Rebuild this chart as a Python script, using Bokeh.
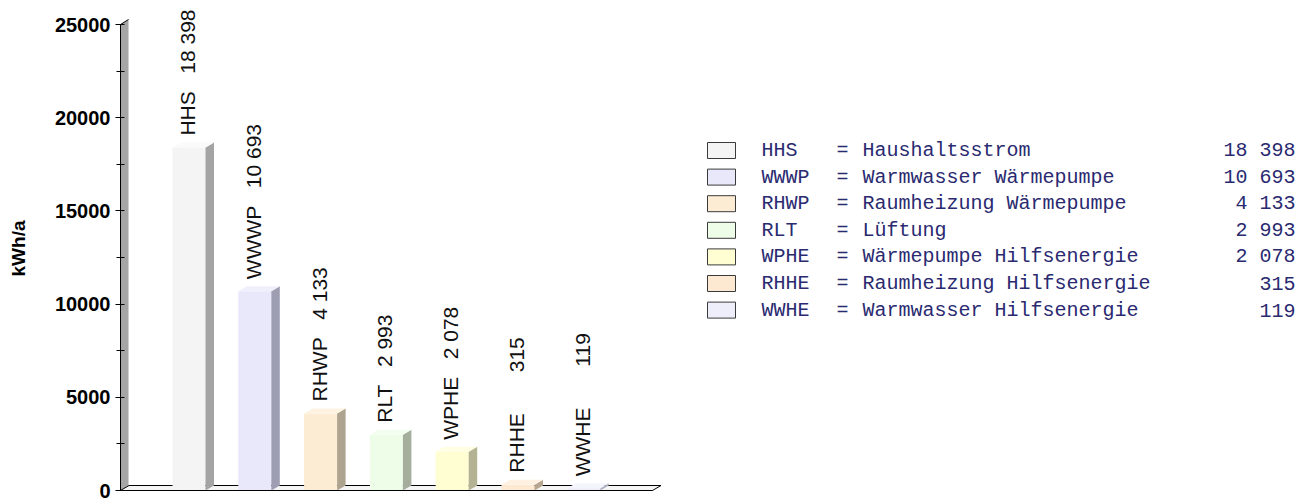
import math
from bokeh.plotting import figure
from bokeh.models import Range1d, SingleIntervalTicker, ColumnDataSource
from bokeh.core.properties import value
from bokeh.embed import file_html
from bokeh.resources import INLINE

# ---------------- data ----------------
codes = ["HHS", "WWWP", "RHWP", "RLT", "WPHE", "RHHE", "WWHE"]
names = ["Haushaltsstrom", "Warmwasser Wärmepumpe", "Raumheizung Wärmepumpe",
         "Lüftung", "Wärmepumpe Hilfsenergie", "Raumheizung Hilfsenergie",
         "Warmwasser Hilfsenergie"]
values = [18398, 10693, 4133, 2993, 2078, 315, 119]
front_colors = ["#f4f4f4", "#e8e8fa", "#fdecd4", "#eefde8", "#fffed2", "#fde9d2", "#eeeefa"]
side_colors = ["#a4a4a4", "#9e9eb2", "#ada38f", "#a5ad9d", "#b3b394", "#b6a68f", "#b0b0c2"]
top_colors = ["#fafafa", "#f0f0fd", "#fef3e2", "#f4fef0", "#fffee2", "#fef1e2", "#f4f4fd"]
y_ticks_interval = 5000
y_max = 25000
y_title = "kWh/a"

# ---------------- layout helpers (canvas pixels -> data) ----------------
FIG_W, FIG_H = 1307, 500
FRAME_LEFT = 120.0
FRAME_RIGHT = float(FIG_W)
FRAME_TOP = 0.0
FRAME_BOTTOM = 496.0
ZERO_Y = 490.0          # canvas y of value 0
TOP_Y = 24.0            # canvas y of value 25000
X_STEP = 65.8           # px per category
FIRST_CENTER = 188.5    # canvas x of first bar center

UPY = y_max / (ZERO_Y - TOP_Y)
UPX = 1.0 / X_STEP

def fx(px):
    return (px - FIRST_CENTER) * UPX

def fy(py):
    return (ZERO_Y - py) * UPY

x_start, x_end = fx(FRAME_LEFT), fx(FRAME_RIGHT)
y_start, y_end = fy(FRAME_BOTTOM), fy(FRAME_TOP)

p = figure(width=FIG_W, height=FIG_H, output_backend="svg", toolbar_location=None,
           x_axis_type=None, x_range=Range1d(x_start, x_end),
           y_range=Range1d(y_start, y_end),
           min_border_left=int(FRAME_LEFT), min_border_right=0,
           min_border_top=int(FRAME_TOP), min_border_bottom=int(FIG_H - FRAME_BOTTOM))
p.grid.visible = False
p.outline_line_color = None
p.background_fill_color = "white"
p.border_fill_color = "white"

ax = p.yaxis[0]
ax.ticker = SingleIntervalTicker(interval=y_ticks_interval, num_minor_ticks=2)
ax.bounds = (0, y_max)
ax.axis_line_color = "black"
ax.major_tick_line_color = "black"
ax.minor_tick_line_color = "black"
ax.major_tick_out = 5
ax.major_tick_in = 0
ax.minor_tick_out = 4
ax.minor_tick_in = 4
ax.major_label_standoff = 5
ax.major_label_text_font = "Liberation Sans"
ax.major_label_text_font_style = "bold"
ax.major_label_text_font_size = "20px"
ax.major_label_text_color = "black"
ax.axis_label = y_title
ax.axis_label_text_font = "Liberation Sans"
ax.axis_label_text_font_style = "bold"
ax.axis_label_text_font_size = "19px"
ax.axis_label_text_color = "black"
ax.axis_label_standoff = 23

DX = 8.5 * UPX
DY = 5.0 * UPY
BAR_W = 33.0 * UPX

# wall
wx0, wx1 = fx(FRAME_LEFT), fx(FRAME_LEFT + 8)
p.patch([wx0, wx1, wx1, wx0], [0, DY, y_max + DY, y_max], fill_color="#a6a6a6", line_color=None)
p.line([wx0, wx1], [y_max, y_max + DY], line_color="black", line_width=1)

# floor
fl0, fl1 = fx(FRAME_LEFT), fx(652)
p.patch([fl0, fl1, fl1 + DX, fl0 + DX], [0, 0, DY, DY], fill_color="#f5f5f5",
        line_color="black", line_width=1)

idx = list(range(len(values)))
src = ColumnDataSource(dict(x=idx, top=values, front=front_colors))
p.vbar(x="x", top="top", bottom=0, width=BAR_W, fill_color="front", line_color=None, source=src)

side_xs, side_ys, top_xs, top_ys = [], [], [], []
for i, v in zip(idx, values):
    l, r = i - BAR_W / 2, i + BAR_W / 2
    side_xs.append([r, r + DX, r + DX, r])
    side_ys.append([0, DY, v + DY, v])
    top_xs.append([l, l + DX, r + DX, r])
    top_ys.append([v, v + DY, v + DY, v])
p.patches(side_xs, side_ys, fill_color=side_colors, line_color=None)
p.patches(top_xs, top_ys, fill_color=top_colors, line_color=None)

# floor front edge drawn over the bars
p.line([fl0, fl1], [0, 0], line_color="black", line_width=1)

# value labels above bars
NB = "\u00a0"
def fmt(v):
    return f"{v:,}".replace(",", NB)
labels = []
for c, v in zip(codes, values):
    n = fmt(v)
    pad = 3 + 2 * max(0, 5 - len(n))
    labels.append(c + NB * pad + n)
p.text(x=[i - 1.5 * UPX for i in idx], y=[v + 12 * UPY for v in values], text=labels,
       angle=math.pi / 2, text_align="left", text_baseline="middle",
       text_font=value("Liberation Sans"), text_font_size="21px", text_color="#111111")

# legend
ROW0 = 150.0
ROW_STEP = 26.6
rows_y = [fy(ROW0 + ROW_STEP * i) for i in idx]
p.quad(left=fx(707), right=fx(735), top=[y + 8 * UPY for y in rows_y],
       bottom=[y - 8 * UPY for y in rows_y], fill_color=front_colors,
       line_color="#3a3a3a", line_width=1)
leg_font = value("Liberation Mono")
leg_color = "#2a2a70"
leg_size = "20px"
p.text(x=fx(761), y=rows_y, text=codes, text_align="left", text_baseline="middle",
       text_font=leg_font, text_font_size=leg_size, text_color=leg_color)
p.text(x=fx(836), y=rows_y, text=["="] * len(codes), text_align="left",
       text_baseline="middle", text_font=leg_font, text_font_size=leg_size, text_color=leg_color)
p.text(x=fx(862), y=rows_y, text=names, text_align="left",
       text_baseline="middle", text_font=leg_font, text_font_size=leg_size, text_color=leg_color)
p.text(x=fx(1295), y=rows_y, text=[fmt(v) for v in values], text_align="right",
       text_baseline="middle", text_font=leg_font, text_font_size=leg_size, text_color=leg_color)

open("out.html", "w").write(file_html(p, INLINE))
